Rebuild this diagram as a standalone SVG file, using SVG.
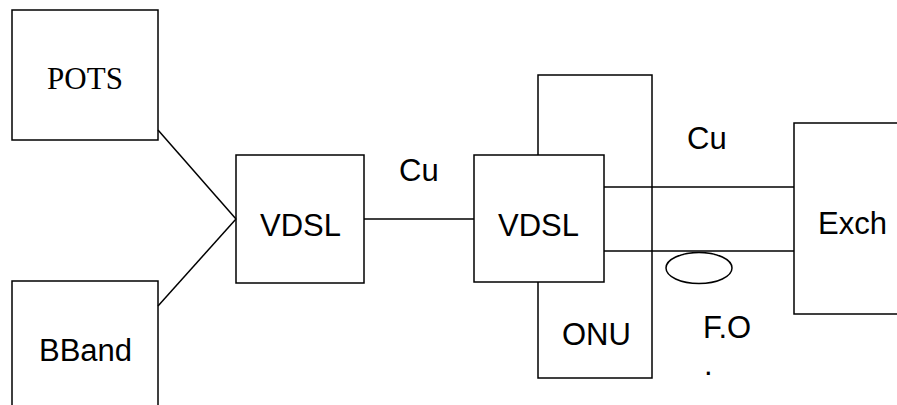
<svg xmlns="http://www.w3.org/2000/svg" width="897" height="405" viewBox="0 0 897 405">
<style>
.b{fill:#fff;stroke:#000;stroke-width:1.5}
.l{fill:none;stroke:#000;stroke-width:1.5}
.t{font-family:"Liberation Sans",Arial,sans-serif;font-size:31px;fill:#000}
.s{font-family:"Liberation Serif","Times New Roman",serif;font-size:31px;fill:#000}
</style>
<rect width="897" height="405" fill="#fff"/>
<g id="pots"><rect class="b" x="12" y="10" width="146" height="130"/><text class="s" x="85" y="89" text-anchor="middle">POTS</text></g>
<g id="bband"><rect class="b" x="12" y="281" width="146" height="140"/><text class="t" x="39" y="361">BBand</text></g>
<g id="vdsl1"><rect class="b" x="236" y="155" width="128" height="128"/><text class="t" x="260" y="236">VDSL</text></g>
<g id="onu"><rect class="b" x="538" y="75" width="114" height="303"/><text class="t" x="562" y="345">ONU</text></g>
<g id="vdsl2"><rect class="b" x="474" y="155" width="130" height="127"/><text class="t" x="498" y="236">VDSL</text></g>
<g id="exch"><rect class="b" x="794" y="123" width="110" height="191"/><text class="t" x="818" y="234">Exch</text></g>
<g id="connectors">
<line class="l" x1="158" y1="130" x2="236" y2="219"/>
<line class="l" x1="158" y1="306" x2="236" y2="219"/>
<line class="l" x1="364" y1="219" x2="474" y2="219"/>
<line class="l" x1="604" y1="187" x2="794" y2="187"/>
<line class="l" x1="604" y1="251" x2="794" y2="251"/>
<ellipse class="l" cx="699" cy="268" rx="33" ry="15.5"/>
<text class="t" x="399" y="181">Cu</text>
<text class="t" x="687" y="149">Cu</text>
<text class="t" x="703" y="338">F.O</text>
<text class="t" x="704" y="375">.</text>
</g>
</svg>
